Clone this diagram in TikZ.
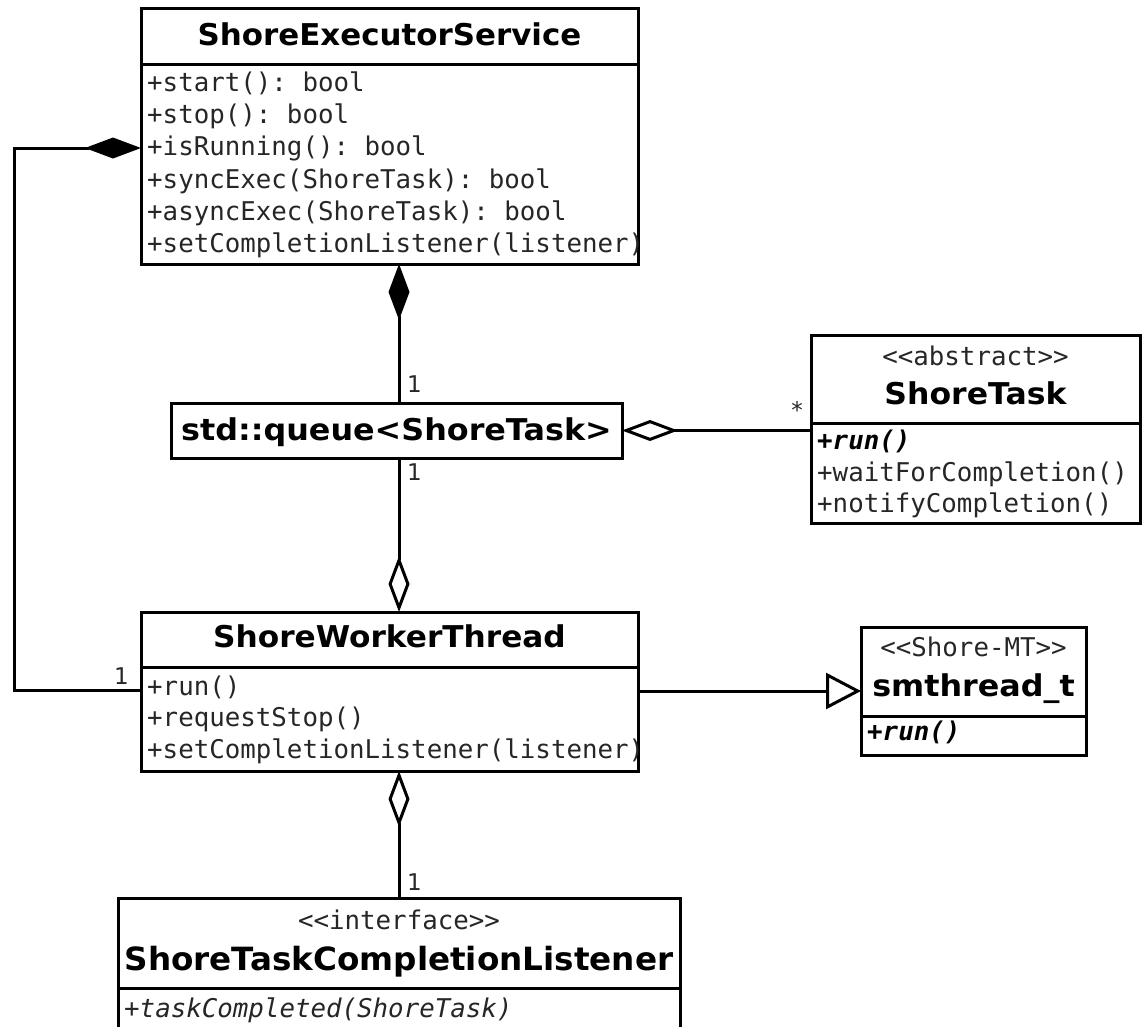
\documentclass[tikz,border=0pt]{standalone}
\usepackage{graphicx}
\usepackage{fontspec}
\setmainfont{DejaVu Sans}
\setmonofont{DejaVu Sans Mono}
\usetikzlibrary{arrows.meta}

% class name in bold, widened horizontally by #1
\newcommand{\clsname}[2]{\scalebox{#1}[1]{#2}}

\begin{document}
\begin{tikzpicture}[x=1pt,y=-1pt,
  box/.style={draw, line width=3pt, rectangle, inner sep=0pt, outer sep=0pt, anchor=north west},
  ttl/.style={font=\fontsize{30}{36}\selectfont\bfseries, inner sep=0pt, anchor=base},
  stereo/.style={font=\fontsize{25.8}{30}\selectfont\ttfamily, text=black!85, inner sep=0pt, anchor=base},
  meth/.style={font=\fontsize{25.8}{30}\selectfont\ttfamily, text=black!85, inner sep=0pt, anchor=base west},
  mult/.style={font=\fontsize{23}{27}\selectfont, text=black!85, inner sep=0pt},
  divider/.style={line width=3pt},
  link/.style={line width=3pt},
  compo/.style={link, -{Diamond[length=56pt, width=21pt]}},
  aggr/.style={link, -{Diamond[open, length=56pt, width=21pt]}},
  inherit/.style={link, -{Triangle[open, length=35pt, width=36pt]}}]

\useasboundingbox (0,0) rectangle (1145,1026);

% ---- class boxes ----
\node[box, minimum width=497pt, minimum height=256pt] (exec) at (141,8) {};
\node[box, minimum width=451pt, minimum height=55pt,
      font=\fontsize{30}{36}\selectfont\bfseries,
      text height=23.5pt, text depth=4.5pt] (queue) at (171,403)
      {\clsname{1.06}{std::queue<ShoreTask>}};
\node[box, minimum width=329pt, minimum height=188pt] (task) at (811,335) {};
\node[box, minimum width=497pt, minimum height=159pt] (worker) at (141,612) {};
\node[box, minimum width=225pt, minimum height=128pt] (smt) at (861,627) {};
\node[box, minimum width=562pt, minimum height=150pt] (lis) at (118,898) {};

% ---- compartment dividers ----
\draw[divider] ([yshift=-56pt]exec.north west) -- ([yshift=-56pt]exec.north east);
\draw[divider] ([yshift=-88pt]task.north west) -- ([yshift=-88pt]task.north east);
\draw[divider] ([yshift=-55pt]worker.north west) -- ([yshift=-55pt]worker.north east);
\draw[divider] ([yshift=-89pt]smt.north west) -- ([yshift=-89pt]smt.north east);
\draw[divider] ([yshift=-90pt]lis.north west) -- ([yshift=-90pt]lis.north east);

% ---- ShoreExecutorService ----
\node[ttl] (execT) at ([yshift=-37pt]exec.north) {\clsname{1.03}{ShoreExecutorService}};
\begin{scope}
  \clip (exec.north west) rectangle (exec.south east);
  \node[meth] (e1) at ([xshift=6pt,yshift=-83pt]exec.north west) {+start(): bool};
  \node[meth] (e2) at ([xshift=6pt,yshift=-115pt]exec.north west) {+stop(): bool};
  \node[meth] (e3) at ([xshift=6pt,yshift=-147pt]exec.north west) {+isRunning(): bool};
  \node[meth] (e4) at ([xshift=6pt,yshift=-180pt]exec.north west) {+syncExec(ShoreTask): bool};
  \node[meth] (e5) at ([xshift=6pt,yshift=-212pt]exec.north west) {+asyncExec(ShoreTask): bool};
  \node[meth] (e6) at ([xshift=6pt,yshift=-244pt]exec.north west) {+setCompletionListener(listener)};
\end{scope}

% ---- ShoreTask ----
\node[stereo] (taskS) at ([yshift=-30pt]task.north) {<{}<abstract>{}>};
\node[ttl] (taskT) at ([yshift=-69pt]task.north) {\clsname{1.05}{ShoreTask}};
\node[meth, font=\fontsize{25.8}{30}\selectfont\ttfamily\bfseries\itshape, text=black] (t1)
  at ([xshift=6pt,yshift=-114pt]task.north west) {+run()};
\node[meth] (t2) at ([xshift=6pt,yshift=-146pt]task.north west) {+waitForCompletion()};
\node[meth] (t3) at ([xshift=6pt,yshift=-177pt]task.north west) {+notifyCompletion()};

% ---- ShoreWorkerThread ----
\node[ttl] (workerT) at ([yshift=-35pt]worker.north) {\clsname{1.04}{ShoreWorkerThread}};
\begin{scope}
  \clip (worker.north west) rectangle (worker.south east);
  \node[meth] (w1) at ([xshift=6pt,yshift=-83pt]worker.north west) {+run()};
  \node[meth] (w2) at ([xshift=6pt,yshift=-114pt]worker.north west) {+requestStop()};
  \node[meth] (w3) at ([xshift=6pt,yshift=-146pt]worker.north west) {+setCompletionListener(listener)};
\end{scope}

% ---- smthread_t ----
\node[stereo] (smtS) at ([yshift=-29pt]smt.north) {<{}<Shore-MT>{}>};
\node[ttl] (smtT) at ([yshift=-69pt]smt.north) {\clsname{1.06}{smthread\_t}};
\node[meth, font=\fontsize{25.8}{30}\selectfont\ttfamily\bfseries\itshape, text=black] (s1)
  at ([xshift=6pt,yshift=-113pt]smt.north west) {+run()};

% ---- ShoreTaskCompletionListener ----
\node[stereo] (lisS) at ([yshift=-31pt]lis.north) {<{}<interface>{}>};
\node[ttl, font=\fontsize{32}{38}\selectfont\bfseries] (lisT) at ([yshift=-72pt]lis.north)
  {\clsname{1.02}{ShoreTaskCompletionListener}};
\node[meth, font=\fontsize{25.8}{30}\selectfont\ttfamily\itshape] (l1)
  at ([xshift=6pt,yshift=-119pt]lis.north west) {+taskCompleted(ShoreTask)};

% ---- relations ----
% executor owns the worker thread
\draw[compo] ([yshift=-78pt]worker.north west) -- ++(-127,0)
  |- ([yshift=-140pt]exec.north west);
\node[mult, anchor=base east] (m1) at ([xshift=-12pt,yshift=-72pt]worker.north west) {1};

% executor owns the queue
\draw[compo] (queue.north -| lis.north) -- (exec.south -| lis.north);
\node[mult, anchor=base west] (m2) at ([xshift=8pt,yshift=11pt]queue.north -| lis.north) {1};

% queue holds tasks
\draw[aggr] (queue.east -| task.west) -- (queue.east);
\node[mult, anchor=base east] (m3) at ([xshift=-8pt,yshift=12pt]queue.east -| task.west) {*};

% worker uses the queue
\draw[aggr] (queue.south -| lis.north) -- (worker.north -| lis.north);
\node[mult, anchor=base west] (m4) at ([xshift=8pt,yshift=-22pt]queue.south -| lis.north) {1};

% worker notifies the listener
\draw[aggr] (lis.north) -- (worker.south -| lis.north);
\node[mult, anchor=base west] (m5) at ([xshift=8pt,yshift=8pt]lis.north) {1};

% worker thread specialises smthread_t
\draw[inherit] (smt.west -| worker.east) -- (smt.west);
\end{tikzpicture}
\end{document}
